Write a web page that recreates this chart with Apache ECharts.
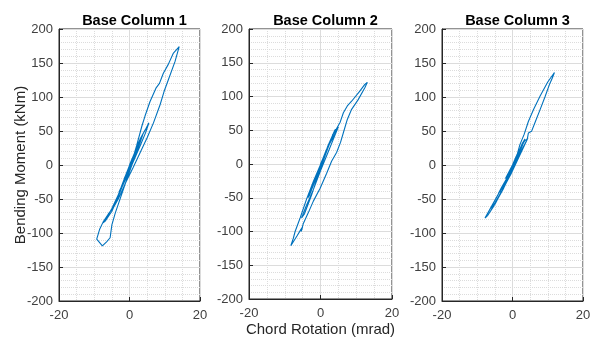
<!DOCTYPE html>
<html>
<head>
<meta charset="utf-8">
<script src="https://cdn.jsdelivr.net/npm/echarts@6/dist/echarts.min.js"></script>
<style>
  html, body { margin: 0; padding: 0; background: #ffffff; }
  #chart { width: 595px; height: 342px; }
</style>
</head>
<body>
<div id="chart"></div>
<script>
// Moment-rotation hysteresis of the three base columns
// each point is [chord rotation (mrad), bending moment (kNm)], in drawing order
const titles = ["Base Column 1", "Base Column 2", "Base Column 3"];
const xTicks = [-20, 0, 20];
const yTicks = [-200, -150, -100, -50, 0, 50, 100, 150, 200];

const col1Path = [
  [0, 0], [0.8, 10], [1.5, 18], [1, 12], [0, -2], [-0.8, -12], [-1.5, -20], [-1, -15], [0, -3],
  [1, 12], [2, 25], [2.6, 32], [2, 22], [0.6, 4], [-1, -16], [-2.3, -32], [-3, -40], [-2.4, -33], [-1, -14], [0.5, 6],
  [1.6, 20], [2.8, 34], [2.2, 26], [0.4, 2], [-1.4, -22], [-2.6, -38], [-1.8, -28], [0, -4],
  [2, 26], [3, 38], [3.8, 45], [3, 33], [1.5, 12], [0, -8], [-2, -30], [-3.5, -48], [-4.5, -60], [-3.8, -52], [-2, -28], [0, -2],
  [1.8, 22], [3.2, 40], [4.5, 52], [5.5, 62], [4.6, 48], [3, 28], [1, 4], [-1, -20], [-3, -42], [-5, -64], [-6.5, -78],
  [-7.5, -85], [-6.8, -82], [-5, -68], [-3, -44], [-1, -18], [0.5, 2],
  [2, 28], [3.5, 57], [4.4, 72], [5.8, 93], [7.5, 113], [8.5, 120], [9.6, 135], [11, 148], [12.4, 164], [14.1, 174],
  [13.6, 165], [12.9, 152], [11, 125], [9.8, 108], [8.7, 89], [6.8, 62], [5, 40], [3, 18], [1, -4], [-1, -25],
  [-3, -48], [-4.5, -62], [-6, -72], [-7.5, -84], [-8.5, -95], [-9.3, -109], [-7.7, -119], [-6.5, -113], [-5.5, -107],
  [-5, -88], [-4, -70], [-3, -55], [-1.5, -32], [0, -10], [1.5, 12], [2.5, 28]
];

const col2Path = [
  [0, 0], [1, 12], [2, 25], [1.3, 15], [0, -2], [-1, -14], [-2, -27], [-1.3, -18], [0, -2],
  [1.5, 18], [3, 38], [3.5, 44], [2.5, 30], [0.8, 8], [-1, -18], [-2.8, -40], [-3.5, -50], [-2.8, -42], [-1, -18], [0.5, 4],
  [1.8, 22], [3.2, 40], [2.4, 28], [0.3, 0], [-1.6, -26], [-3.2, -48], [-2.2, -34], [0, -6],
  [2, 26], [4, 50], [5, 55], [4, 42], [2, 16], [0, -10], [-2, -38], [-4, -62], [-5.3, -80], [-4.5, -74], [-2.5, -46],
  [-0.5, -14], [1, 8],
  [2.5, 30], [3.6, 44], [5.5, 62], [6.4, 76], [7.5, 86], [8.7, 93], [11, 108], [12.4, 118], [13.1, 121],
  [12.4, 113], [10.5, 95], [8.7, 81], [7.5, 66], [6.6, 50], [5.6, 32], [4.5, 17], [3.1, 4], [1.7, -14], [-0.1, -36],
  [-2, -55], [-3.4, -72], [-4.8, -88], [-5.4, -100], [-5, -93], [-5.6, -98], [-6.5, -106], [-8.3, -121],
  [-7.6, -110], [-7.1, -100], [-5.7, -80], [-3.9, -52], [-2, -26], [-0.1, -2], [1.7, 22], [3.6, 40], [5, 55]
];

const col3Path = [
  [0, 0], [1, 12], [1.8, 22], [1.2, 14], [0, 0], [-1, -10], [-2, -20], [-1.4, -15], [0, -2],
  [1.5, 16], [2.8, 32], [3.5, 38], [2.6, 26], [1, 6], [-1, -14], [-3, -32], [-4, -42], [-3.2, -36], [-1.5, -18], [0, -3],
  [1.4, 14], [2.4, 26], [1.6, 16], [0, -4], [-2.2, -26], [-3.6, -40], [-2.6, -30], [-0.6, -8],
  [2, 22], [3.5, 36], [4.2, 38], [3.3, 28], [1.5, 8], [-0.5, -14], [-3, -38], [-5, -56], [-6, -64], [-5, -58],
  [-3, -38], [-1, -16], [0.5, 0],
  [2.1, 30], [3.3, 45], [4.5, 64], [6, 82], [7.8, 101], [10, 122], [11.9, 136], [11.3, 128], [10.6, 120],
  [9.2, 100], [7.8, 81], [6.5, 64], [5.4, 49.5], [4.5, 47], [4.2, 38], [3, 26], [1.5, 10], [0, -6], [-2, -24],
  [-3.5, -38], [-5, -52], [-6.5, -66], [-7.8, -78], [-7, -74], [-5.5, -62], [-4, -48], [-2.5, -34], [-1, -18],
  [0.2, -5], [1.5, 10]
];

const paths = [col1Path, col2Path, col3Path];

const FONT = "'Liberation Sans', Arial, Helvetica, sans-serif";
const AXIS_COLOR = "#262626";
const GRID_COLOR = "#dcdcdc";
const LINE_COLOR = "#0072bd";

const boxes = [
  { left: 59, top: 29, width: 141, height: 272 },
  { left: 249, top: 29, width: 143, height: 272 },
  { left: 442, top: 29, width: 141, height: 272 }
];

function xAxisFor(i) {
  return {
    type: "value",
    gridIndex: i,
    min: xTicks[0],
    max: xTicks[xTicks.length - 1],
    interval: 20,
    name: i === 1 ? "Chord Rotation (mrad)" : "",
    nameLocation: "middle",
    nameGap: 23,
    nameMoveOverlap: false,
    nameTextStyle: { fontFamily: FONT, fontSize: 15, color: AXIS_COLOR },
    axisLine: { onZero: false, lineStyle: { color: AXIS_COLOR, width: 1 } },
    axisTick: { inside: true, length: 4, lineStyle: { color: AXIS_COLOR } },
    axisLabel: { fontFamily: FONT, fontSize: 13, color: "#404040", margin: 8 },
    splitLine: { show: true, lineStyle: { color: GRID_COLOR, width: 1 } },
    minorTick: { show: false, splitNumber: 4 },
    minorSplitLine: { show: true, lineStyle: { color: GRID_COLOR, width: 1, type: "dotted" } }
  };
}

function yAxisFor(i) {
  return {
    type: "value",
    gridIndex: i,
    min: yTicks[0],
    max: yTicks[yTicks.length - 1],
    interval: 50,
    name: i === 0 ? "Bending Moment (kNm)" : "",
    nameLocation: "middle",
    nameGap: 31,
    nameMoveOverlap: false,
    nameTextStyle: { fontFamily: FONT, fontSize: 15, color: AXIS_COLOR },
    axisLine: { show: true, onZero: false, lineStyle: { color: AXIS_COLOR, width: 1 } },
    axisTick: { show: true, inside: true, length: 4, lineStyle: { color: AXIS_COLOR } },
    axisLabel: { fontFamily: FONT, fontSize: 13, color: "#404040", margin: 6 },
    splitLine: { show: true, lineStyle: { color: GRID_COLOR, width: 1 } },
    minorTick: { show: false, splitNumber: 5 },
    minorSplitLine: { show: true, lineStyle: { color: GRID_COLOR, width: 1, type: "dotted" } }
  };
}

const chart = echarts.init(document.getElementById("chart"), null, { renderer: "canvas" });

chart.setOption({
  animation: false,
  backgroundColor: "#ffffff",
  title: titles.map((t, i) => ({
    text: t,
    left: boxes[i].left + boxes[i].width / 2,
    top: 8,
    textAlign: "center",
    textStyle: { fontFamily: FONT, fontSize: 14.5, fontWeight: "bold", color: "#000000" }
  })),
  grid: boxes.map((b) => ({
    left: b.left,
    top: b.top,
    width: b.width,
    height: b.height,
    show: true,
    borderColor: AXIS_COLOR,
    borderWidth: 1,
    backgroundColor: "transparent"
  })),
  xAxis: [0, 1, 2].map(xAxisFor),
  yAxis: [0, 1, 2].map(yAxisFor),
  series: paths.map((p, i) => ({
    type: "line",
    xAxisIndex: i,
    yAxisIndex: i,
    data: p,
    showSymbol: false,
    symbol: "none",
    smooth: false,
    lineStyle: { color: LINE_COLOR, width: 1.1 },
    itemStyle: { color: LINE_COLOR },
    z: 5
  }))
});
</script>
</body>
</html>
